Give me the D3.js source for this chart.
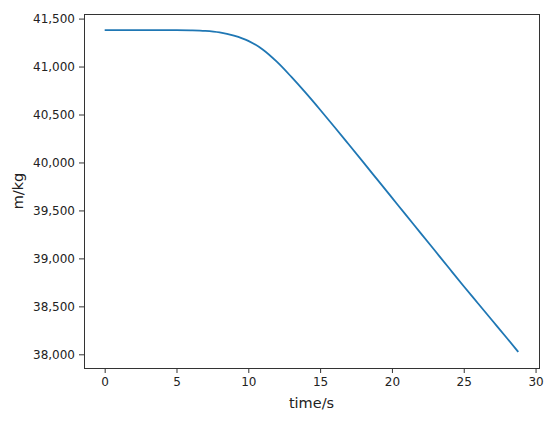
<!DOCTYPE html>
<html>
<head>
<meta charset="utf-8">
<script src="https://cdn.jsdelivr.net/npm/d3@7"></script>
<style>
  html, body { margin: 0; padding: 0; background: #fff; }
  #chart text { font-family: "DejaVu Sans", sans-serif; fill: #222; }
</style>
</head>
<body>
<div id="chart"></div>
<script>
/*
 * Mass over time
 */
var times = [0, 1, 2, 3, 4, 5, 6, 7, 8, 9, 10, 11, 12, 13, 14, 15, 16, 17, 18, 19, 20, 21, 22, 23, 24, 25, 26, 27, 28, 28.8];
var masses = [41380, 41380, 41380, 41380, 41380, 41380, 41378, 41372, 41356, 41322, 41268, 41178, 41048, 40892, 40725,
  40550, 40370, 40187, 40003, 39818, 39633, 39448, 39264, 39079, 38894, 38710, 38530, 38350, 38170, 38025];
var xTicks = [0, 5, 10, 15, 20, 25, 30];
var yTicks = [38000, 38500, 39000, 39500, 40000, 40500, 41000, 41500];
var xLabel = 'time/s';
var yLabel = 'm/kg';

(function() {
  var width = 550;
  var height = 421;
  var margin = { top: 14, right: 11, bottom: 53, left: 84 };
  var innerW = width - margin.left - margin.right;
  var innerH = height - margin.top - margin.bottom;
  var lineColor = '#1f77b4';

  var data = times.map(function(t, i) {
    return { t: t, m: masses[i] };
  });

  // matplotlib style 5% padding around the data
  function padded(ext) {
    var pad = (ext[1] - ext[0]) * 0.05;
    return [ext[0] - pad, ext[1] + pad];
  }

  var x = d3.scaleLinear().domain(padded(d3.extent(times))).range([0, innerW]);
  var y = d3.scaleLinear().domain(padded(d3.extent(masses))).range([innerH, 0]);

  var svg = d3.select('#chart').append('svg').attr('width', width).attr('height', height);
  var g = svg.append('g').attr('transform', 'translate(' + margin.left + ',' + margin.top + ')');

  var fmt = d3.format(',');

  var xAxis = g.append('g')
    .attr('transform', 'translate(0,' + innerH + ')')
    .call(d3.axisBottom(x).tickValues(xTicks).tickSize(5).tickPadding(4).tickFormat(d3.format('d')));
  var yAxis = g.append('g')
    .call(d3.axisLeft(y).tickValues(yTicks).tickSize(5).tickPadding(4).tickFormat(fmt));

  [xAxis, yAxis].forEach(function(ax) {
    ax.select('.domain').remove();
    ax.selectAll('line').attr('stroke', '#333').attr('stroke-width', 1);
    ax.selectAll('text').style('font-size', '12px').attr('fill', '#222');
  });

  // frame
  g.append('rect')
    .attr('x', 0.5)
    .attr('y', 0.5)
    .attr('width', innerW)
    .attr('height', innerH)
    .attr('fill', 'none')
    .attr('stroke', '#333')
    .attr('stroke-width', 1);

  var line = d3.line()
    .x(function(d) { return x(d.t); })
    .y(function(d) { return y(d.m); })
    .curve(d3.curveMonotoneX);

  g.append('path')
    .datum(data)
    .attr('d', line)
    .attr('fill', 'none')
    .attr('stroke', lineColor)
    .attr('stroke-width', 1.8)
    .attr('stroke-linejoin', 'round')
    .attr('stroke-linecap', 'butt');

  svg.append('text')
    .attr('x', margin.left + innerW / 2)
    .attr('y', 408)
    .attr('text-anchor', 'middle')
    .style('font-size', '14.5px')
    .text(xLabel);

  svg.append('text')
    .attr('transform', 'translate(23,' + (margin.top + innerH / 2) + ') rotate(-90)')
    .attr('text-anchor', 'middle')
    .style('font-size', '14.5px')
    .text(yLabel);
}).call(this);
</script>
</body>
</html>
